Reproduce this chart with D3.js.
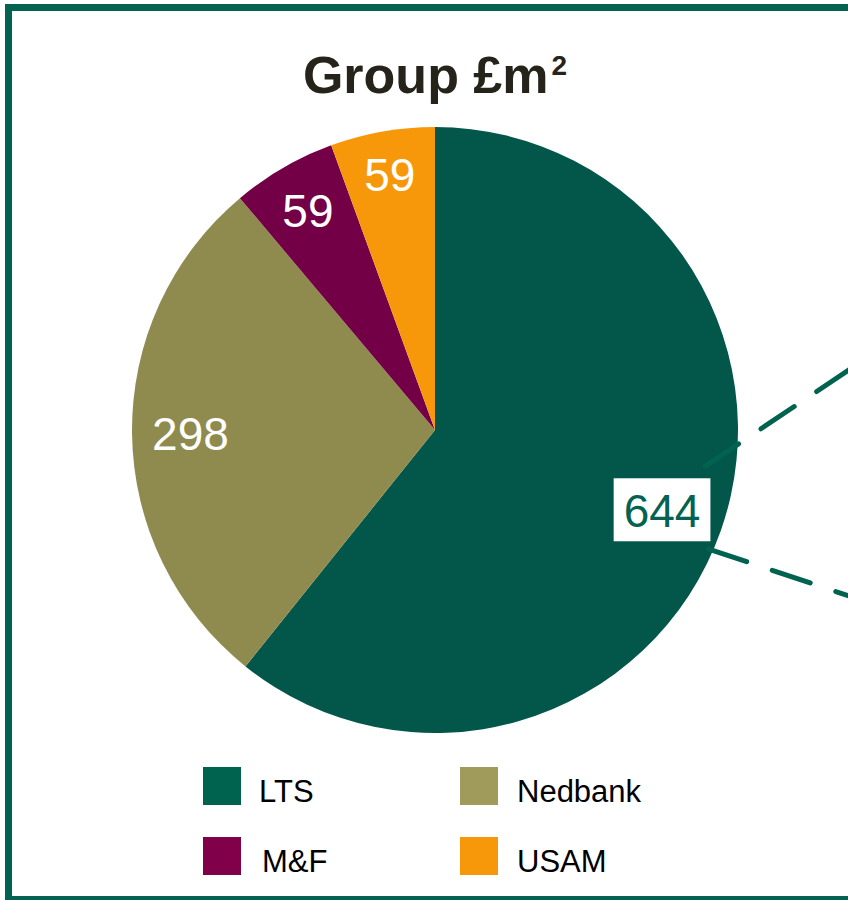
<!DOCTYPE html>
<html>
<head>
<meta charset="utf-8">
<script src="https://cdn.jsdelivr.net/npm/d3@7"></script>
<style>
  body { margin: 0; background: #fff; }
  svg { display: block; font-family: "Liberation Sans", Arial, sans-serif; }
</style>
</head>
<body>
<div id="chart"></div>
<script>
// data
const segments = ["LTS", "Nedbank", "M&F", "USAM"];
const values = [644, 298, 59, 59];
const pieColors = ["#03574A", "#8F8A4E", "#730046", "#F7980A"];
const legendColors = ["#006350", "#A09B5A", "#800049", "#F7980A"];
const labelColors = ["#036251", "#ffffff", "#ffffff", "#ffffff"];
const boxedLabel = [true, false, false, false];

const W = 848, H = 900;
const cx = 435, cy = 430, R = 303;
const frameColor = "#036251";

const svg = d3.select("#chart").append("svg")
    .attr("width", W)
    .attr("height", H);

// frame (runs off the right side, as in the slide crop)
svg.append("rect")
    .attr("x", 8.5)
    .attr("y", 7.5)
    .attr("width", 900)
    .attr("height", 892)
    .attr("fill", "none")
    .attr("stroke", frameColor)
    .attr("stroke-width", 7);

const title = svg.append("text")
    .attr("x", cx)
    .attr("y", 93)
    .attr("text-anchor", "middle")
    .attr("font-weight", "bold")
    .attr("font-size", 52)
    .attr("fill", "#26231A");
title.append("tspan").text("Group £m");
title.append("tspan")
    .attr("dx", 3)
    .attr("dy", -18)
    .attr("font-size", 28)
    .text("2");

const pie = d3.pie().sort(null).value(d => d);
const arcs = pie(values);
const arc = d3.arc().innerRadius(0).outerRadius(R);

const g = svg.append("g").attr("transform", `translate(${cx},${cy})`);

g.selectAll("path.slice")
    .data(arcs)
    .enter()
    .append("path")
    .attr("class", "slice")
    .attr("d", arc)
    .attr("fill", (d, i) => pieColors[i]);

// connector lines towards the (cropped) breakdown on the right
const connectors = [
    { a0: 97.6, r0: 0.9, a1: 56.2 },
    { a0: 113.5, r0: 0.985, a1: 108.5 }
];
connectors.forEach(c => {
    const p0 = [Math.sin(c.a0 * Math.PI / 180) * R * c.r0, -Math.cos(c.a0 * Math.PI / 180) * R * c.r0];
    const dx = Math.sin(c.a1 * Math.PI / 180), dy = -Math.cos(c.a1 * Math.PI / 180);
    const len = (W + 20 - cx - p0[0]) / dx;
    g.append("line")
        .attr("x1", p0[0]).attr("y1", p0[1])
        .attr("x2", p0[0] + dx * len).attr("y2", p0[1] + dy * len)
        .attr("stroke", "#006350")
        .attr("stroke-width", 5)
        .attr("stroke-linecap", "round")
        .attr("stroke-dasharray", "40,27");
});

// labels placed at the inside end of each slice
const fontSize = 46;
const edge = 288;
arcs.forEach((d, i) => {
    const mid = (d.startAngle + d.endAngle) / 2;
    const ux = Math.sin(mid), uy = -Math.cos(mid);
    const t = g.append("text")
        .attr("text-anchor", "middle")
        .attr("font-size", fontSize)
        .attr("fill", labelColors[i])
        .text(values[i]);
    const w = t.node().getComputedTextLength() + 8;
    const h = 44;
    const sx = ux >= 0 ? 1 : -1, sy = uy >= 0 ? 1 : -1;
    // solve |d*u + (sx*w/2, sy*h/2)| = edge
    const bx = sx * w / 2, by = sy * h / 2;
    const B = 2 * (ux * bx + uy * by);
    const C = bx * bx + by * by - edge * edge;
    const dist = (-B + Math.sqrt(B * B - 4 * C)) / 2;
    const lx = ux * dist, ly = uy * dist;
    t.attr("x", lx).attr("y", ly + 17);
    if (boxedLabel[i]) {
        const tw = t.node().getComputedTextLength();
        g.insert("rect", () => t.node())
            .attr("x", lx - tw / 2 - 10)
            .attr("y", ly - 31.5)
            .attr("width", tw + 20)
            .attr("height", 63)
            .attr("fill", "#ffffff");
    }
});

// legend, two columns
const legendX = [203, 460];
const legendY = [767, 837];
const legend = svg.append("g");
segments.forEach((s, i) => {
    const col = i % 2, row = Math.floor(i / 2);
    const item = legend.append("g")
        .attr("transform", `translate(${legendX[col]},${legendY[row]})`);
    item.append("rect")
        .attr("width", 38)
        .attr("height", 38)
        .attr("fill", legendColors[i]);
    item.append("text")
        .attr("x", col === 0 ? 56 + (row === 1 ? 3 : 0) : 57)
        .attr("y", 35)
        .attr("font-size", 31)
        .attr("fill", "#000")
        .text(s);
});
</script>
</body>
</html>
